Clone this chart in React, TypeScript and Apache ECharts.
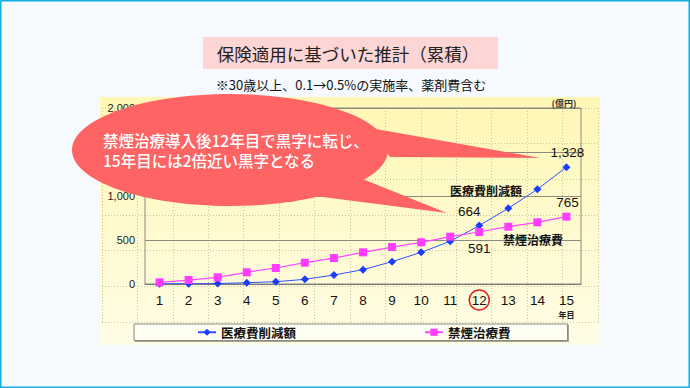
import React, { useEffect, useRef } from "react";
import * as echarts from "echarts";

const years = ["1", "2", "3", "4", "5", "6", "7", "8", "9", "10", "11", "12", "13", "14", "15"];
const savingsName = "医療費削減額";
const treatmentName = "禁煙治療費";
const savings = [3, 3, 5, 15, 26, 53, 102, 163, 254, 360, 485, 664, 860, 1076, 1328];
const treatment = [19, 45, 76, 133, 182, 242, 295, 360, 420, 474, 538, 591, 651, 701, 765];
const yMin = 0;
const yMax = 2000;
const yInterval = 500;
const hiddenTick = 1500; // covered by the callout in the reference
const highlightYear = "12";
const lastYear = "15";
const unitLabel = "(億円)";
const yearUnit = "年目";
const titleText = "保険適用に基づいた推計（累積）";
const subtitleText = "※30歳以上、0.1→0.5%の実施率、薬剤費含む";
const calloutText = "禁煙治療導入後12年目で黒字に転じ、\n15年目には2倍近い黒字となる";

const NUM_FONT = "'Liberation Sans', Arial, sans-serif";
const JP_FONT = "'Noto Sans CJK JP', sans-serif";

const fmt = (v: number) => v.toLocaleString("en-US");

// label placement per labelled point (index -> style)
const savingsLabels: Record<number, any> = {
  11: { position: "top", offset: [-10, 2] },
  14: { position: "top", offset: [1, 1] },
};
const treatmentLabels: Record<number, any> = {
  11: { position: "bottom", offset: [0, 1] },
  14: { position: "top", offset: [1, 2] },
};

const buildData = (vals: number[], labels: Record<number, any>) =>
  vals.map((v, i) =>
    labels[i]
      ? {
          value: v,
          label: {
            show: true,
            formatter: fmt(v),
            fontSize: 13.5,
            color: "#111",
            fontFamily: NUM_FONT,
            ...labels[i],
          },
        }
      : v
  );

export default function App() {
  const ref = useRef<HTMLDivElement>(null);
  useEffect(() => {
    if (!ref.current) return;
    const chart = echarts.init(ref.current, null, { renderer: "svg" });
    const option: any = {
      animation: false,
      backgroundColor: "#f6faff",
      grid: [
        {
          left: 145,
          right: 109,
          top: 108,
          bottom: 104,
          show: true,
          borderColor: "#8a8a80",
          borderWidth: 1,
          backgroundColor: "transparent",
          z: 3,
        },
        { left: 102, right: 92, top: 108, bottom: 66, show: false, z: 1 },
      ],
      xAxis: [
        {
          type: "category",
          gridIndex: 0,
          data: years,
          boundaryGap: true,
          axisLine: { lineStyle: { color: "#777", width: 1 } },
          axisTick: { inside: true, length: 5, lineStyle: { color: "#888" } },
          axisLabel: {
            interval: 0,
            hideOverlap: false,
            margin: 6,
            fontSize: 13.5,
            color: "#111",
            fontFamily: NUM_FONT,
            lineHeight: 20,
            formatter: (v: string) =>
              v === highlightYear
                ? `{c|${v}}`
                : v === lastYear
                ? `${v}\n{u|${yearUnit}}`
                : v,
            rich: {
              c: {
                fontSize: 13.5,
                fontFamily: NUM_FONT,
                color: "#111",
                borderColor: "#e02020",
                borderWidth: 1.5,
                borderRadius: 11,
                width: 20,
                height: 20,
                lineHeight: 20,
                align: "center",
              },
              u: {
                fontSize: 8,
                fontWeight: "bold",
                fontFamily: JP_FONT,
                color: "#222",
                lineHeight: 9,
              },
            },
          },
          splitLine: { show: false },
          z: 4,
        },
        {
          type: "value",
          gridIndex: 1,
          min: 0,
          max: 14,
          interval: 1,
          axisLine: { show: false },
          axisTick: { show: false },
          axisLabel: { show: false },
          splitLine: { show: true, lineStyle: { color: "#c9c6a6", type: [1, 2], width: 1 } },
        },
      ],
      yAxis: [
        {
          type: "value",
          gridIndex: 0,
          min: yMin,
          max: yMax,
          interval: yInterval,
          axisLine: { show: false },
          axisTick: { show: false },
          axisLabel: {
            margin: 10,
            fontSize: 11,
            color: "#222",
            fontFamily: NUM_FONT,
            formatter: (v: number) => (v === hiddenTick ? "" : fmt(v)),
          },
          splitLine: { show: true, lineStyle: { color: "#8a8a80", width: 1 } },
          z: 4,
        },
        {
          type: "value",
          gridIndex: 1,
          min: 0,
          max: 6,
          interval: 1,
          axisLine: { show: false },
          axisTick: { show: false },
          axisLabel: { show: false },
          splitLine: { show: true, lineStyle: { color: "#c9c6a6", type: [1, 2], width: 1 } },
        },
      ],
      legend: {
        data: [savingsName, treatmentName],
        left: 134,
        top: 324,
        itemGap: 128,
        itemWidth: 18,
        itemHeight: 9,
        padding: [2, 57, 2, 63],
        backgroundColor: "#fffef2",
        borderColor: "#8a8a80",
        borderWidth: 1,
        shadowColor: "rgba(0,0,0,0.35)",
        shadowOffsetX: 1,
        shadowOffsetY: 1,
        shadowBlur: 0,
        textStyle: { fontSize: 12.5, fontWeight: "bold", color: "#111", fontFamily: JP_FONT },
      },
      series: [
        {
          name: savingsName,
          type: "line",
          xAxisIndex: 0,
          yAxisIndex: 0,
          data: buildData(savings, savingsLabels),
          symbol: "diamond",
          symbolSize: 8,
          color: "#1a3cff",
          lineStyle: { color: "#3050ff", width: 1 },
          itemStyle: { color: "#1a3cff" },
          z: 5,
        },
        {
          name: treatmentName,
          type: "line",
          xAxisIndex: 0,
          yAxisIndex: 0,
          data: buildData(treatment, treatmentLabels),
          symbol: "rect",
          symbolSize: 8,
          color: "#ff3cff",
          lineStyle: { color: "#ff44ff", width: 1.2 },
          itemStyle: { color: "#ff3cff" },
          z: 5,
        },
      ],
      graphic: [
        {
          type: "rect",
          z: -5,
          silent: true,
          shape: { x: 0.75, y: 0.75, width: 688.5, height: 386.5 },
          style: { fill: "none", stroke: "#12aee3", lineWidth: 1.5 },
        },
        {
          type: "rect",
          z: -4,
          silent: true,
          shape: { x: 100, y: 97, width: 500, height: 248 },
          style: {
            fill: new echarts.graphic.LinearGradient(0, 0, 0, 1, [
              { offset: 0, color: "#fff7b4" },
              { offset: 1, color: "#fffde6" },
            ]),
          },
        },
        {
          type: "rect",
          silent: true,
          shape: { x: 203, y: 37, width: 295, height: 32 },
          style: { fill: "#fdd5d5" },
        },
        {
          type: "text",
          silent: true,
          style: {
            text: titleText,
            x: 348,
            y: 53,
            align: "center",
            verticalAlign: "middle",
            fontSize: 17.5,
            fill: "#222",
            fontFamily: JP_FONT,
          },
        },
        {
          type: "text",
          silent: true,
          style: {
            text: subtitleText,
            x: 351,
            y: 84,
            align: "center",
            verticalAlign: "middle",
            fontSize: 13,
            fill: "#111",
            fontFamily: JP_FONT,
          },
        },
        {
          type: "text",
          silent: true,
          z: 10,
          style: {
            text: unitLabel,
            x: 564,
            y: 103,
            align: "center",
            verticalAlign: "middle",
            fontSize: 9,
            fontWeight: "bold",
            fill: "#333",
            fontFamily: JP_FONT,
          },
        },
        {
          type: "text",
          silent: true,
          z: 10,
          style: {
            text: savingsName,
            x: 486,
            y: 190,
            align: "center",
            verticalAlign: "middle",
            fontSize: 12,
            fontWeight: "bold",
            fill: "#111",
            fontFamily: JP_FONT,
          },
        },
        {
          type: "text",
          silent: true,
          z: 10,
          style: {
            text: treatmentName,
            x: 533,
            y: 239,
            align: "center",
            verticalAlign: "middle",
            fontSize: 12,
            fontWeight: "bold",
            fill: "#111",
            fontFamily: JP_FONT,
          },
        },
        {
          type: "group",
          z: 100,
          silent: true,
          children: [
            {
              type: "ellipse",
              z: 100,
              shape: { cx: 230, cy: 150, rx: 158, ry: 56 },
              style: { fill: "#ff6464" },
            },
            {
              type: "polygon",
              z: 100,
              shape: { points: [[370, 128], [540, 158], [390, 157]] },
              style: { fill: "#ff6464" },
            },
            {
              type: "polygon",
              z: 100,
              shape: { points: [[360, 178], [447, 213], [315, 196]] },
              style: { fill: "#ff6464" },
            },
            {
              type: "text",
              z: 101,
              style: {
                text: calloutText,
                x: 103,
                y: 150,
                align: "left",
                verticalAlign: "middle",
                lineHeight: 20,
                fontSize: 15.5,
                fontWeight: 500,
                fill: "#ffffff",
                fontFamily: JP_FONT,
              },
            },
          ],
        },
      ],
    };
    chart.setOption(option);
    return () => chart.dispose();
  }, []);
  return (
    <div
      ref={ref}
      style={{ position: "fixed", left: 0, top: 0, width: 690, height: 388 }}
    />
  );
}
